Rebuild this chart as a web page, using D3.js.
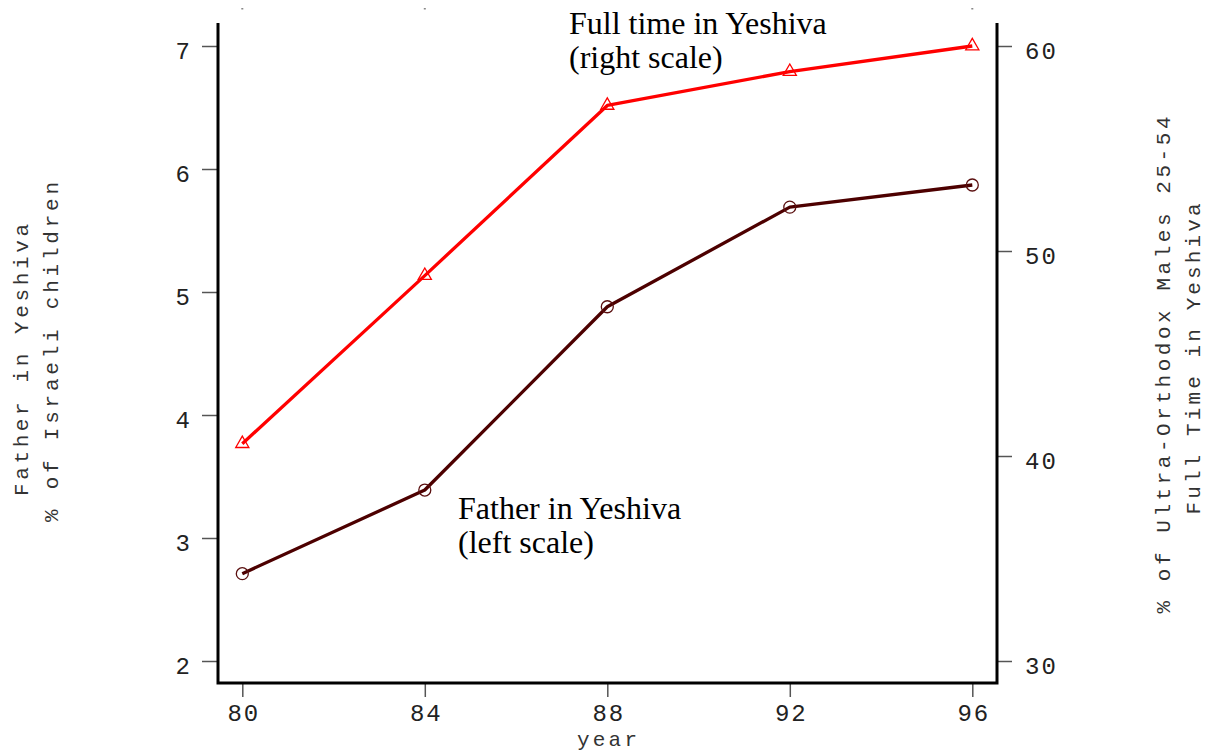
<!DOCTYPE html>
<html><head><meta charset="utf-8">
<script src="https://cdn.jsdelivr.net/npm/d3@7"></script>
<style>body{margin:0;background:#fff}svg{display:block}</style>
</head><body><svg id="c" width="1206" height="755"></svg>
<script>
const years = [80, 84, 88, 92, 96];
const fatherInYeshiva = [2.71, 3.39, 4.88, 5.69, 5.87];      // left scale
const fullTimeInYeshiva = [40.6, 48.8, 57.1, 58.75, 60.0];   // right scale
const leftTicks = [2, 3, 4, 5, 6, 7];
const rightTicks = [30, 40, 50, 60];
const xTicks = [80, 84, 88, 92, 96];
const topDots = [80, 84, 96];

const svg = d3.select("#c");
const x = d3.scaleLinear().domain([80, 96]).range([242.3, 972.3]);
const yL = d3.scaleLinear().domain([2, 7]).range([661, 46]);
const yR = d3.scaleLinear().domain([30, 60]).range([661, 46]);
const mono = "'Liberation Mono', 'DejaVu Sans Mono', monospace";
const serif = "'Liberation Serif', 'Times New Roman', serif";

// left axis
const gL = svg.append("g").attr("transform", "translate(218,0)")
  .call(d3.axisLeft(yL).tickValues(leftTicks).tickFormat(d3.format("d")).tickSize(16).tickPadding(12));
// right axis
const gR = svg.append("g").attr("transform", "translate(997,0)")
  .call(d3.axisRight(yR).tickValues(rightTicks).tickFormat(d3.format("d")).tickSize(15).tickPadding(13));
// bottom axis
const gB = svg.append("g").attr("transform", "translate(0,683)")
  .call(d3.axisBottom(x).tickValues(xTicks).tickFormat(d3.format("d")).tickSize(14).tickPadding(24));
[gL, gR, gB].forEach(g => {
  g.select(".domain").remove();
  g.selectAll(".tick line").attr("stroke", "#555").attr("stroke-width", 1.5);
  g.selectAll(".tick text").attr("font-family", mono).attr("font-size", 24).attr("fill", "#222");
});
gL.selectAll(".tick text").attr("dy", "0.52em");
gR.selectAll(".tick text").attr("dy", "0.52em").attr("letter-spacing", 2);
gB.selectAll(".tick text").attr("dy", "0").attr("y", 38).attr("letter-spacing", 2).attr("dx", 1);

// frame
svg.append("path")
  .attr("d", `M218,23V683H997V23`)
  .attr("fill", "none").attr("stroke", "#000").attr("stroke-width", 3);

// top dots
svg.selectAll("rect.td").data(topDots).enter().append("rect")
  .attr("x", d => x(d) - 1).attr("y", 8).attr("width", 2).attr("height", 1.5).attr("fill", "#888");

// lines
const lineR = d3.line().x((d, i) => x(years[i])).y(d => yR(d));
const lineL = d3.line().x((d, i) => x(years[i])).y(d => yL(d));
svg.append("path").datum(fullTimeInYeshiva).attr("d", lineR)
  .attr("fill", "none").attr("stroke", "#ff0000").attr("stroke-width", 3.3).attr("stroke-linejoin", "round");
svg.append("path").datum(fatherInYeshiva).attr("d", lineL)
  .attr("fill", "none").attr("stroke", "#4d0000").attr("stroke-width", 3.3).attr("stroke-linejoin", "round");

// markers
svg.selectAll("path.tri").data(fullTimeInYeshiva).enter().append("path")
  .attr("d", d3.symbol().type(d3.symbolTriangle).size(75))
  .attr("transform", (d, i) => `translate(${x(years[i])},${yR(d)})`)
  .attr("fill", "none").attr("stroke", "#ff0000").attr("stroke-width", 1.3);
svg.selectAll("circle.ci").data(fatherInYeshiva).enter().append("circle")
  .attr("cx", (d, i) => x(years[i])).attr("cy", d => yL(d)).attr("r", 6)
  .attr("fill", "none").attr("stroke", "#5a0f0f").attr("stroke-width", 1.3);

// annotations
function ann(tx, ty, lines) {
  lines.forEach((t, i) => svg.append("text").attr("x", tx).attr("y", ty + i * 34)
    .attr("font-family", serif).attr("font-size", 32).attr("fill", "#000").text(t));
}
ann(569, 34, ["Full time in Yeshiva", "(right scale)"]);
ann(458, 519, ["Father in Yeshiva", "(left scale)"]);

// axis titles
function vtitle(bx, cy, t, len) {
  svg.append("text").attr("transform", `translate(${bx},${cy}) rotate(-90)`)
    .attr("text-anchor", "middle").attr("font-family", mono).attr("font-size", 21)
    .attr("fill", "#333").attr("textLength", len).attr("lengthAdjust", "spacing").text(t);
}
vtitle(28, 360, "Father in Yeshiva", 272);
vtitle(58, 352, "% of Israeli children", 340);
vtitle(1170, 365, "% of Ultra-Orthodox Males 25-54", 497);
vtitle(1200, 359, "Full Time in Yeshiva", 311);
svg.append("text").attr("x", 607).attr("y", 746).attr("text-anchor", "middle")
  .attr("font-family", mono).attr("font-size", 21).attr("fill", "#333")
  .attr("textLength", 60).attr("lengthAdjust", "spacing").text("year");
</script></body></html>
